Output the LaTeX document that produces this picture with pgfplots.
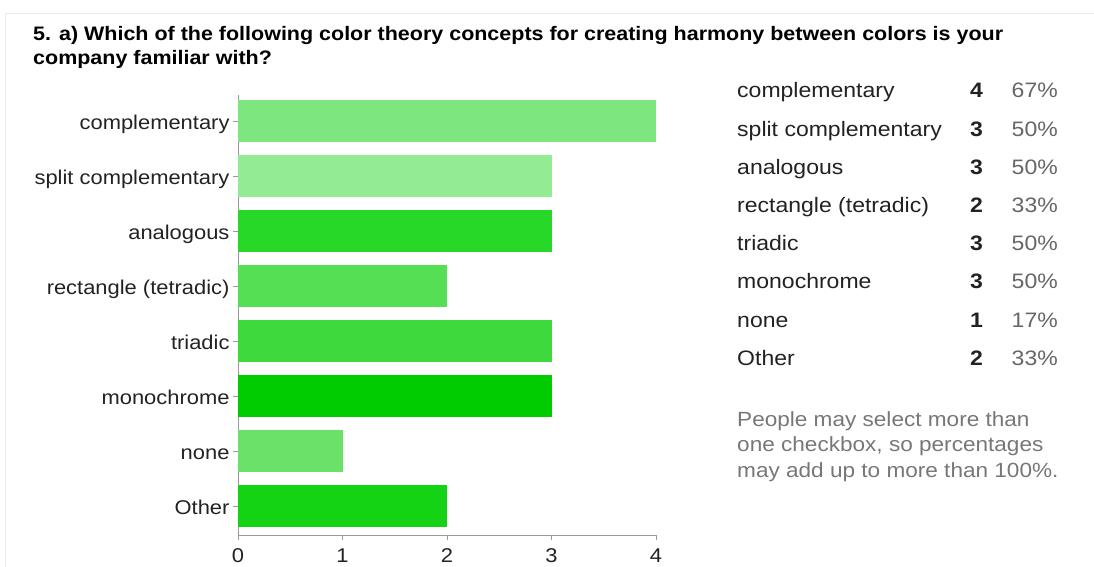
\documentclass[border=0pt]{standalone}
\usepackage{fontspec}
\setmainfont{Liberation Sans}[FakeStretch=1.1]
\usepackage{pgfplots}
\pgfplotsset{compat=1.18}
\definecolor{cA}{HTML}{7EE67E}
\definecolor{cB}{HTML}{93EB93}
\definecolor{cC}{HTML}{28D828}
\definecolor{cD}{HTML}{54DF54}
\definecolor{cE}{HTML}{3DD93D}
\definecolor{cF}{HTML}{00CC00}
\definecolor{cG}{HTML}{6AE26A}
\definecolor{cH}{HTML}{14D214}
\definecolor{lbl}{HTML}{222222}
\definecolor{note}{HTML}{777777}
\definecolor{pct}{HTML}{666666}
\begin{document}
\begin{tikzpicture}[x=1bp,y=1bp]
\path[use as bounding box] (0,0) rectangle (1094,-567);
\draw[black!8] (5,-567) -- (5,-13) -- (1094,-13);
\node[anchor=base west, inner sep=0, font=\bfseries\fontsize{19.6}{24}\selectfont] at (33,-41) {5. a) Which of the following color theory concepts for creating harmony between colors is your};
\node[anchor=base west, inner sep=0, font=\bfseries\fontsize{19.6}{24}\selectfont] at (33,-65) {company familiar with?};
\begin{axis}[
  at={(238bp,-535bp)}, anchor=south west,
  scale only axis, width=418bp, height=440bp,
  xmin=0, xmax=4, ymin=-0.47, ymax=7.53, y dir=reverse,
  axis lines*=left,
  axis line style={black!40, -},
  tick style={black!40},
  tick align=outside,
  major tick length=5bp,
  xtick={0,1,2,3,4},
  ytick={0,1,2,3,4,5,6,7},
  yticklabels={complementary, split complementary, analogous, rectangle (tetradic), triadic, monochrome, none, Other},
  /pgf/number format/assume math mode=true,
  ticklabel style={font=\fontsize{20}{24}\selectfont, text=lbl},
  yticklabel style={anchor=base east, yshift=-8.5bp},
  xticklabel style={yshift=-5bp},
  clip=false,
]
\addplot[xbar, fill=cA, draw=none, bar width=0.76, bar shift=0pt] coordinates {(4,0)};
\addplot[xbar, fill=cB, draw=none, bar width=0.76, bar shift=0pt] coordinates {(3,1)};
\addplot[xbar, fill=cC, draw=none, bar width=0.76, bar shift=0pt] coordinates {(3,2)};
\addplot[xbar, fill=cD, draw=none, bar width=0.76, bar shift=0pt] coordinates {(2,3)};
\addplot[xbar, fill=cE, draw=none, bar width=0.76, bar shift=0pt] coordinates {(3,4)};
\addplot[xbar, fill=cF, draw=none, bar width=0.76, bar shift=0pt] coordinates {(3,5)};
\addplot[xbar, fill=cG, draw=none, bar width=0.76, bar shift=0pt] coordinates {(1,6)};
\addplot[xbar, fill=cH, draw=none, bar width=0.76, bar shift=0pt] coordinates {(2,7)};
\end{axis}
\begin{scope}[every node/.style={inner sep=0, font=\fontsize{21}{25}\selectfont}]
\foreach \lab/\n/\p [count=\i from 0] in {complementary/4/67\%, split complementary/3/50\%, analogous/3/50\%, rectangle (tetradic)/2/33\%, triadic/3/50\%, monochrome/3/50\%, none/1/17\%, Other/2/33\%}{
  \node[anchor=base west, text=lbl] at (737,-98-38.2*\i) {\lab};
  \node[anchor=base east, text=lbl, font=\bfseries\fontsize{21}{25}\selectfont] at (983,-98-38.2*\i) {\n};
  \node[anchor=base east, text=pct] at (1058,-98-38.2*\i) {\p};
}
\begin{scope}[every node/.style={inner sep=0, font=\fontsize{20.6}{25}\selectfont}]
\node[anchor=base west, text=note] at (737,-426) {People may select more than};
\node[anchor=base west, text=note] at (737,-451.5) {one checkbox, so percentages};
\node[anchor=base west, text=note] at (737,-477) {may add up to more than 100\%.};
\end{scope}
\end{scope}
\end{tikzpicture}
\end{document}
